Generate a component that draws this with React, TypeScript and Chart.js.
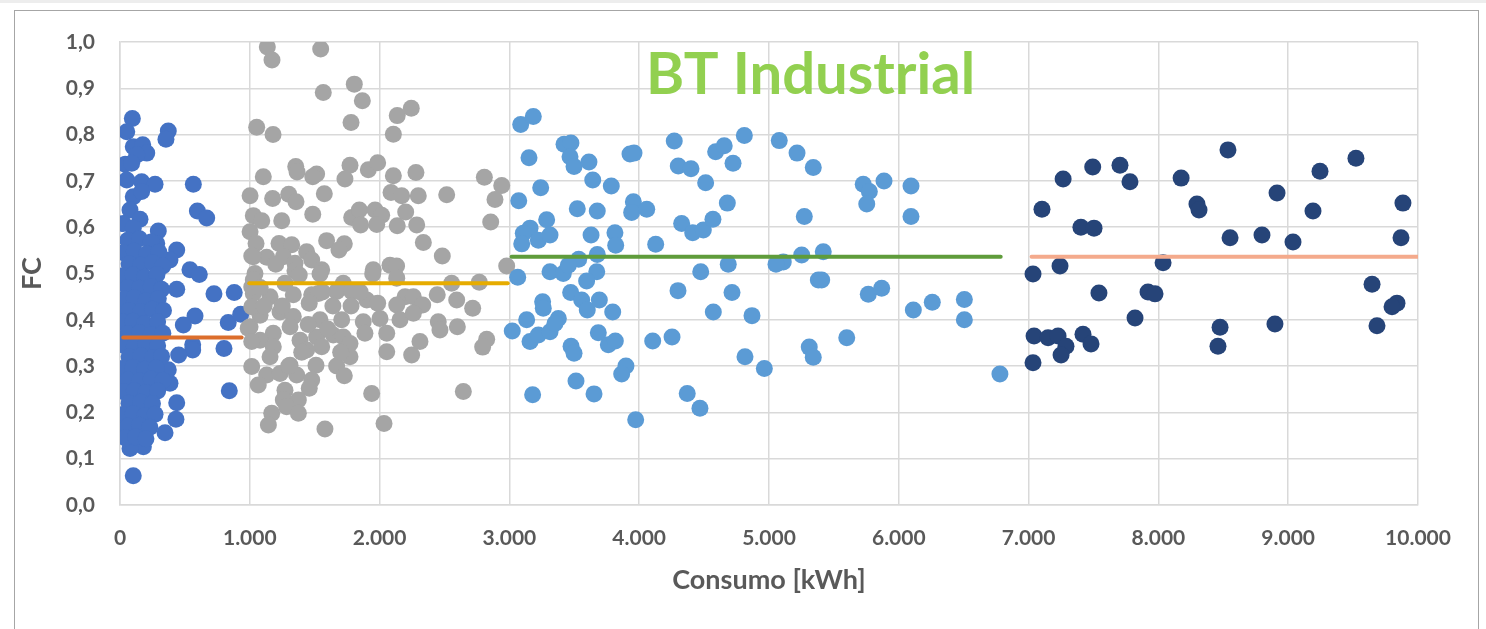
import React, { useEffect, useRef } from 'react';
import { Chart, registerables } from 'chart.js';

Chart.register(...registerables);

const CHART_TITLE = 'BT Industrial';
const X_TITLE = 'Consumo [kWh]';
const Y_TITLE = 'FC';
const X_MIN = 0;
const X_MAX = 10000;
const X_STEP = 1000;
const Y_MIN = 0;
const Y_MAX = 1;
const Y_STEP = 0.1;

// Group 0 - 1.000 kWh
const group1: [number, number][] = [
  [95, 0.835], [52, 0.806], [372, 0.808], [354, 0.79], [102, 0.774], [175, 0.778], [206, 0.76], [129, 0.756],
  [39, 0.736], [90, 0.738], [52, 0.702], [167, 0.698], [270, 0.693], [565, 0.693], [102, 0.666], [167, 0.677],
  [77, 0.637], [596, 0.635], [668, 0.62], [25, 0.608], [154, 0.617], [102, 0.598], [295, 0.592], [102, 0.565],
  [283, 0.565], [437, 0.551], [385, 0.529], [539, 0.508], [611, 0.498], [437, 0.466], [724, 0.456], [880, 0.459],
  [578, 0.408], [488, 0.389], [834, 0.394], [930, 0.412], [560, 0.346], [560, 0.335], [452, 0.324], [801, 0.338],
  [842, 0.247], [437, 0.221], [431, 0.185], [347, 0.156], [180, 0.126], [77, 0.122], [102, 0.063], [39, 0.166],
  [385, 0.263], [372, 0.292], [10, 0.43], [10, 0.265],
  [60, 0.572], [150, 0.575], [240, 0.568],
  [30, 0.545], [110, 0.548], [205, 0.542], [300, 0.546],
  [70, 0.521], [160, 0.518], [250, 0.523], [330, 0.516],
  [20, 0.495], [100, 0.497], [190, 0.492], [285, 0.498],
  [60, 0.47], [150, 0.468], [240, 0.472], [320, 0.466],
  [30, 0.445], [110, 0.447], [200, 0.441], [295, 0.446],
  [70, 0.42], [160, 0.418], [250, 0.423], [335, 0.42],
  [20, 0.395], [100, 0.397], [190, 0.392], [290, 0.396],
  [60, 0.37], [150, 0.372], [240, 0.368], [330, 0.371],
  [30, 0.345], [110, 0.343], [200, 0.347], [290, 0.344],
  [70, 0.32], [160, 0.322], [250, 0.318], [320, 0.321],
  [20, 0.295], [100, 0.297], [190, 0.293], [280, 0.296],
  [60, 0.27], [150, 0.268], [240, 0.272], [330, 0.269],
  [30, 0.245], [110, 0.247], [200, 0.243], [290, 0.246],
  [70, 0.22], [160, 0.222], [250, 0.219],
  [20, 0.195], [100, 0.197], [190, 0.193], [270, 0.196],
  [60, 0.17], [150, 0.172], [230, 0.168],
  [40, 0.145], [120, 0.147], [200, 0.143],
];

// Group 1.000 - 3.000 kWh
const group2: [number, number][] = [
  [1135, 0.989], [1171, 0.961], [1546, 0.985], [1566, 0.891], [1805, 0.909], [1867, 0.873], [1780, 0.826], [2136, 0.841],
  [2244, 0.857], [2106, 0.801], [1053, 0.816], [1179, 0.8], [1354, 0.731], [1364, 0.719], [1104, 0.709], [1515, 0.715],
  [1485, 0.709], [1772, 0.734], [1733, 0.704], [1913, 0.724], [1985, 0.739], [2106, 0.711], [2280, 0.718], [2807, 0.708],
  [2941, 0.69], [1002, 0.668], [1176, 0.662], [1300, 0.671], [1356, 0.655], [1574, 0.672], [2088, 0.675], [2170, 0.668],
  [2298, 0.668], [2517, 0.67], [2889, 0.66], [2201, 0.633], [1027, 0.625], [1092, 0.614], [1246, 0.614], [1485, 0.628],
  [1785, 0.621], [1844, 0.637], [1965, 0.637], [2016, 0.626], [1854, 0.605], [1978, 0.606], [2136, 0.603], [2286, 0.605],
  [2856, 0.611], [1002, 0.59], [1048, 0.565], [1225, 0.565], [1323, 0.562], [1592, 0.571], [1728, 0.564], [1687, 0.551],
  [1438, 0.547], [2337, 0.567], [2483, 0.538], [1130, 0.535], [1258, 0.536], [1348, 0.522], [1477, 0.529], [1027, 0.536],
  [2080, 0.518], [2131, 0.516], [1951, 0.508], [1554, 0.508], [2979, 0.516], [1947, 0.499], [2132, 0.49], [1541, 0.499],
  [1348, 0.506], [1040, 0.5], [1271, 0.479], [1381, 0.497], [1720, 0.479], [2555, 0.479], [2768, 0.481], [1027, 0.457],
  [1156, 0.45], [1335, 0.454], [1477, 0.454], [1528, 0.457], [1669, 0.461], [1785, 0.461], [1901, 0.443], [1985, 0.436],
  [2196, 0.45], [2260, 0.45], [2444, 0.454], [2594, 0.443], [2332, 0.432], [2132, 0.432], [1780, 0.43], [1458, 0.436],
  [1233, 0.417], [1079, 0.41], [2717, 0.425], [2003, 0.403], [2157, 0.4], [2260, 0.414], [2452, 0.396], [2465, 0.378],
  [2599, 0.385], [1874, 0.396], [1002, 0.385], [1335, 0.407], [1541, 0.4], [1708, 0.4], [1887, 0.371], [2055, 0.371],
  [1181, 0.371], [1310, 0.385], [1079, 0.356], [1387, 0.356], [1515, 0.363], [1643, 0.367], [1720, 0.363], [1772, 0.349],
  [1554, 0.342], [1438, 0.335], [1181, 0.342], [1156, 0.32], [1772, 0.32], [2055, 0.331], [2247, 0.324], [2311, 0.353],
  [2825, 0.358], [2794, 0.341], [1015, 0.299], [1310, 0.302], [1510, 0.302], [1669, 0.3], [1130, 0.281], [1233, 0.284],
  [1361, 0.281], [1728, 0.279], [1065, 0.259], [1477, 0.27], [1458, 0.252], [1271, 0.248], [1939, 0.241], [2645, 0.245],
  [1258, 0.227], [1374, 0.227], [1284, 0.212], [1374, 0.198], [1169, 0.198], [1143, 0.173], [1579, 0.164], [2034, 0.176],
  [988, 0.382], [1015, 0.353], [1015, 0.428], [1015, 0.471], [1027, 0.486], [1015, 0.538],
  [1600, 0.38], [1450, 0.39], [1250, 0.43], [1400, 0.33], [1110, 0.43], [1640, 0.43], [1560, 0.46], [1200, 0.52],
  [1700, 0.33], [1850, 0.46], [1080, 0.47], [1300, 0.3],
];

// Group 3.000 - 7.000 kWh
const group3: [number, number][] = [
  [3087, 0.822], [3184, 0.839], [3151, 0.75], [3421, 0.779], [3474, 0.782], [3467, 0.752], [3498, 0.731], [3613, 0.741],
  [3241, 0.685], [3642, 0.702], [3785, 0.689], [3929, 0.758], [3960, 0.76], [3072, 0.657], [3523, 0.64], [3677, 0.635],
  [3955, 0.655], [3942, 0.632], [4058, 0.639], [3287, 0.616], [3159, 0.598], [3107, 0.587], [3223, 0.572], [3313, 0.583],
  [3095, 0.564], [3629, 0.583], [3813, 0.588], [3819, 0.561], [4127, 0.563], [4270, 0.786], [4301, 0.732], [4399, 0.726],
  [4512, 0.696], [4589, 0.763], [4655, 0.776], [4810, 0.798], [4723, 0.738], [4679, 0.652], [4327, 0.608], [4412, 0.588],
  [4494, 0.594], [4568, 0.617], [5079, 0.787], [5216, 0.76], [5341, 0.729], [5272, 0.623], [5252, 0.54], [5110, 0.525],
  [5054, 0.52], [3534, 0.531], [3677, 0.541], [3064, 0.492], [3313, 0.504], [3415, 0.5], [3454, 0.518], [3673, 0.504],
  [3595, 0.484], [4686, 0.52], [4474, 0.504], [4299, 0.463], [4715, 0.459], [3472, 0.459], [3256, 0.439], [3261, 0.425],
  [3557, 0.443], [3600, 0.421], [3693, 0.443], [3796, 0.417], [4571, 0.417], [4869, 0.409], [3133, 0.4], [3377, 0.403],
  [5380, 0.486], [3022, 0.376], [3159, 0.353], [3223, 0.367], [3313, 0.374], [3351, 0.392], [3475, 0.343], [3498, 0.328],
  [3685, 0.372], [3762, 0.346], [3816, 0.354], [4104, 0.354], [4253, 0.363], [3898, 0.3], [3865, 0.283], [3513, 0.268],
  [3652, 0.24], [3179, 0.238], [3973, 0.184], [4370, 0.241], [4468, 0.209], [4815, 0.32], [4964, 0.295], [5310, 0.341],
  [5341, 0.319], [5726, 0.693], [5773, 0.677], [5753, 0.65], [5886, 0.7], [6094, 0.689], [6094, 0.623], [5418, 0.547],
  [5406, 0.486], [5765, 0.455], [5868, 0.468], [6112, 0.421], [6258, 0.438], [6505, 0.444], [6505, 0.4], [5599, 0.361],
  [6779, 0.283],
];

// Group 7.000 - 10.000 kWh
const group4: [number, number][] = [
  [8536, 0.767], [9522, 0.749], [9245, 0.721], [7494, 0.73], [7704, 0.734], [7781, 0.698], [7266, 0.704], [8175, 0.706],
  [7103, 0.639], [8297, 0.65], [8313, 0.637], [8914, 0.674], [9191, 0.635], [9884, 0.652], [7403, 0.6], [7504, 0.598],
  [8552, 0.577], [8798, 0.583], [9037, 0.568], [9869, 0.577], [8036, 0.523], [7242, 0.516], [7034, 0.499], [7542, 0.458],
  [7920, 0.46], [7974, 0.456], [9646, 0.477], [9838, 0.436], [9800, 0.428], [9684, 0.387], [7820, 0.404], [8898, 0.391],
  [8475, 0.384], [8459, 0.343], [7042, 0.365], [7150, 0.361], [7227, 0.365], [7288, 0.343], [7250, 0.324], [7419, 0.369],
  [7481, 0.348], [7034, 0.307],
];

// Average lines: [xStart, xEnd, value]
const avg1: [number, number, number] = [25, 937, 0.362];
const avg2: [number, number, number] = [996, 2987, 0.479];
const avg3: [number, number, number] = [3017, 6785, 0.536];
const avg4: [number, number, number] = [7023, 10000, 0.536];

const COLORS = {
  g1: '#4472C4',
  g2: '#A5A5A5',
  g3: '#5B9BD5',
  g4: '#264478',
  a1: '#DC6E2C',
  a2: '#E6AC00',
  a3: '#5F9C3B',
  a4: '#F4AA8C',
  title: '#92D050',
  text: '#595959',
  grid: '#D9D9D9',
};

const FONT = 'Lato, "Open Sans", "Liberation Sans", sans-serif';

function toPts(arr: [number, number][]) {
  return arr.map(([x, y]) => ({ x, y }));
}

function lineDs(a: [number, number, number], color: string) {
  return {
    type: 'line' as const,
    data: [{ x: a[0], y: a[2] }, { x: a[1], y: a[2] }],
    borderColor: color,
    backgroundColor: color,
    borderWidth: 4,
    borderCapStyle: 'round' as const,
    pointRadius: 0,
    showLine: true,
    fill: false,
  };
}

function scatterDs(arr: [number, number][], color: string) {
  return {
    type: 'scatter' as const,
    data: toPts(arr),
    backgroundColor: color,
    borderColor: color,
    borderWidth: 0,
    pointRadius: 8.5,
    pointHoverRadius: 8.5,
  };
}

const titlePlugin = {
  id: 'btTitle',
  afterDatasetsDraw(chart: any) {
    const { ctx, chartArea } = chart;
    ctx.save();
    ctx.font = `bold 58px ${FONT}`;
    ctx.fillStyle = COLORS.title;
    ctx.textAlign = 'center';
    ctx.textBaseline = 'alphabetic';
    const x = chartArea.left + (chartArea.right - chartArea.left) * 0.532;
    ctx.fillText(CHART_TITLE, x, chartArea.top + 52);
    ctx.restore();
  },
};

export default function App() {
  const ref = useRef<HTMLCanvasElement | null>(null);

  useEffect(() => {
    if (!ref.current) return;
    const chart = new Chart(ref.current, {
      type: 'scatter',
      data: {
        datasets: [
          lineDs(avg1, COLORS.a1),
          lineDs(avg2, COLORS.a2),
          lineDs(avg3, COLORS.a3),
          lineDs(avg4, COLORS.a4),
          scatterDs(group4, COLORS.g4),
          scatterDs(group3, COLORS.g3),
          scatterDs(group2, COLORS.g2),
          scatterDs(group1, COLORS.g1),
        ] as any,
      },
      options: {
        responsive: false,
        animation: false,
        events: [],
        layout: { padding: { left: 14, top: 42, right: 68, bottom: 0 } },
        plugins: {
          legend: { display: false },
          tooltip: { enabled: false },
          title: { display: false },
        },
        scales: {
          x: {
            type: 'linear',
            min: X_MIN,
            max: X_MAX,
            afterFit: (s: any) => { s.height = 124; },
            border: { color: COLORS.grid, width: 1.5 },
            grid: { color: COLORS.grid, lineWidth: 1.5, drawTicks: false },
            ticks: {
              stepSize: X_STEP,
              padding: 21,
              color: COLORS.text,
              font: { family: FONT, size: 21, weight: 'bold' },
              maxRotation: 0,
              callback: (v: any) => Number(v).toLocaleString('de-DE'),
            },
            title: {
              display: true,
              text: X_TITLE,
              color: COLORS.text,
              font: { family: FONT, size: 27, weight: 'bold' },
              padding: { top: 0, bottom: 33 },
            },
          },
          y: {
            type: 'linear',
            min: Y_MIN,
            max: Y_MAX,
            afterFit: (s: any) => { s.width = 106; },
            border: { color: COLORS.grid, width: 1.5 },
            grid: { color: COLORS.grid, lineWidth: 1.5, drawTicks: false },
            ticks: {
              stepSize: Y_STEP,
              padding: 25,
              color: COLORS.text,
              font: { family: FONT, size: 21, weight: 'bold' },
              callback: (v: any) => Number(v).toFixed(1).replace('.', ','),
            },
            title: {
              display: true,
              text: Y_TITLE,
              color: COLORS.text,
              font: { family: FONT, size: 27, weight: 'bold' },
              padding: { top: 2, bottom: 0 },
            },
          },
        },
      },
      plugins: [titlePlugin],
    });
    return () => chart.destroy();
  }, []);

  return (
    <div style={{ position: 'fixed', left: 0, top: 0, width: 1486, height: 629, background: '#fff', overflow: 'hidden' }}>
      <div style={{ position: 'absolute', left: 0, top: 0, width: 1486, height: 3, background: '#EDEDED' }} />
      <div
        style={{
          position: 'absolute', left: 14, top: 10, width: 1465, height: 700,
          border: '1px solid #A6A6A6', borderBottom: 'none', boxSizing: 'border-box',
        }}
      />
      <canvas ref={ref} width={1486} height={629} style={{ position: 'absolute', left: 0, top: 0 }} />
    </div>
  );
}
